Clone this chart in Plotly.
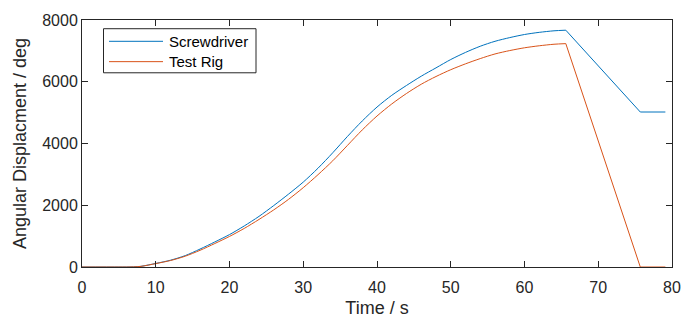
import plotly.graph_objects as go

# Data
time_s = [0, 5, 6, 7, 8, 10, 12, 14, 16, 18, 20, 22, 24, 26, 28, 30, 32, 34, 36, 38,
          40, 42, 44, 46, 48, 50, 52, 54, 56, 58, 60, 62, 64, 65.6, 75.7, 79.1]
screwdriver = [0, 0, 0, 5, 22, 115, 220, 370, 580, 810, 1050, 1330, 1640, 1990, 2360,
               2750, 3200, 3700, 4230, 4730, 5180, 5560, 5880, 6180, 6450, 6720,
               6950, 7150, 7310, 7430, 7530, 7600, 7650, 7670, 5020, 5020]
test_rig = [0, 0, 0, 5, 20, 110, 210, 350, 540, 760, 990, 1250, 1540, 1850, 2190,
            2570, 2990, 3440, 3940, 4440, 4890, 5280, 5620, 5920, 6170, 6390,
            6580, 6750, 6900, 7010, 7100, 7165, 7215, 7235, 0, 0]
series_names = ["Screwdriver", "Test Rig"]
series_colors = ["#0072BD", "#D95319"]
x_ticks = [0, 10, 20, 30, 40, 50, 60, 70, 80]
y_ticks = [0, 2000, 4000, 6000, 8000]

PEAK = time_s.index(65.6)  # end of the smooth rising part

W, H = 698, 328
L, R, T, B = 82, 672, 12, 267  # plot area in page pixels
pw, ph = R - L, B - T

def px(x):
    return (x - L) / pw

def py(y):
    return (B - y) / ph

FONT = "Liberation Sans, Arial, Helvetica, sans-serif"
AX = "#262626"

fig = go.Figure()
for name, vals, col in zip(series_names, [screwdriver, test_rig], series_colors):
    # smooth rise
    fig.add_trace(go.Scatter(x=time_s[:PEAK + 1], y=vals[:PEAK + 1], mode="lines", name=name,
                             line=dict(color=col, width=1, shape="spline", smoothing=0.8),
                             showlegend=False))
    # straight fall and hold
    fig.add_trace(go.Scatter(x=time_s[PEAK:], y=vals[PEAK:], mode="lines", name=name,
                             line=dict(color=col, width=1), showlegend=False))

# manual MATLAB-style legend
shapes = [dict(type="rect", xref="paper", yref="paper",
               x0=px(103.5), x1=px(256), y0=py(66.5), y1=py(21),
               line=dict(color=AX, width=1), fillcolor="white", layer="above")]
annotations = []
rows = [34, 55]
for name, col, ry in zip(series_names, series_colors, rows):
    shapes.append(dict(type="line", xref="paper", yref="paper",
                       x0=px(109), x1=px(163), y0=py(ry), y1=py(ry),
                       line=dict(color=col, width=1), layer="above"))
    annotations.append(dict(text=name, xref="paper", yref="paper",
                            x=px(167), y=py(ry), xanchor="left", yanchor="middle",
                            showarrow=False, font=dict(size=15, color="black", family=FONT)))

fig.update_layout(
    width=W, height=H,
    margin=dict(l=L, r=W - R, t=T, b=H - B),
    paper_bgcolor="white", plot_bgcolor="white",
    font=dict(family=FONT, size=16, color=AX),
    shapes=shapes, annotations=annotations,
)
fig.update_xaxes(range=[0, 80], tickvals=x_ticks, ticks="inside", ticklen=6,
                 tickcolor=AX, showline=True, linecolor=AX, linewidth=1,
                 mirror="ticks", showgrid=False, zeroline=False,
                 tickfont=dict(size=16, color=AX), ticklabelstandoff=6,
                 ticklabeloverflow="allow",
                 title=dict(text="Time / s", font=dict(size=18, color=AX), standoff=6))
fig.update_yaxes(range=[0, 8000], tickvals=y_ticks, ticks="inside", ticklen=6,
                 tickcolor=AX, showline=True, linecolor=AX, linewidth=1,
                 mirror="ticks", showgrid=False, zeroline=False,
                 tickfont=dict(size=16, color=AX), ticklabeloverflow="allow",
                 title=dict(text="Angular Displacment / deg", font=dict(size=18, color=AX), standoff=10))

# remove the default 8px page margin so the figure sits at the window origin
fig.write_html("out.html", config={"displayModeBar": False},
               post_script="document.body.style.margin='0';")
